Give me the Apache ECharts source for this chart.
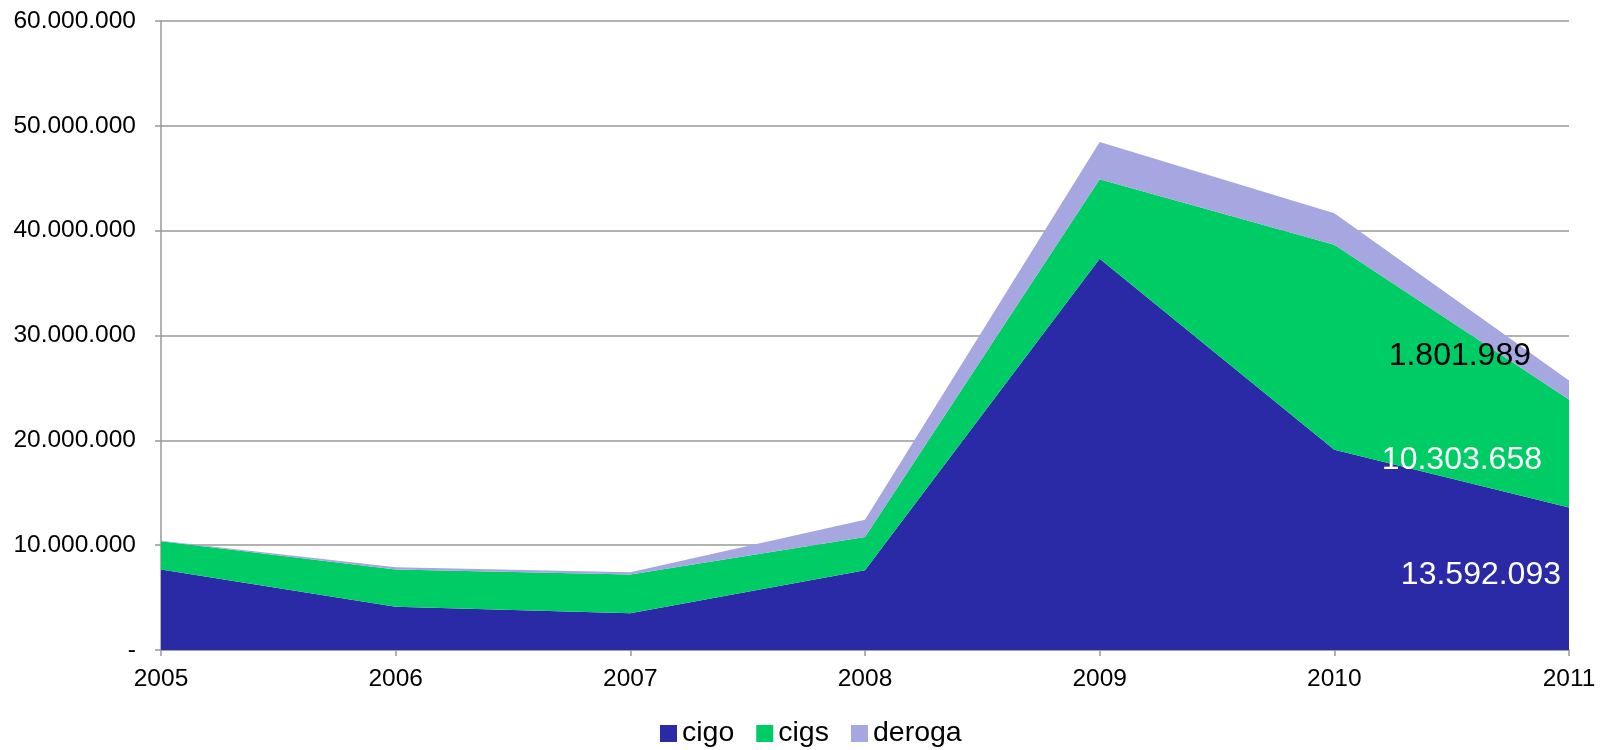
<!DOCTYPE html>
<html>
<head>
<meta charset="utf-8">
<script src="https://cdn.jsdelivr.net/npm/echarts@6/dist/echarts.min.js"></script>
<style>
html,body{margin:0;padding:0;background:#fff;overflow:hidden;}
#chart{width:1601px;height:750px;}
</style>
</head>
<body>
<div id="chart"></div>
<script>
const categories = ['2005', '2006', '2007', '2008', '2009', '2010', '2011'];
const seriesNames = ['cigo', 'cigs', 'deroga'];
const cigo = [7670000, 4120000, 3510000, 7600000, 37330000, 19100000, 13592093];
const cigs = [2710000, 3550000, 3680000, 3190000, 7570000, 19560000, 10303658];
const deroga = [50000, 220000, 220000, 1640000, 3560000, 3000000, 1801989];
const yTicks = [0, 10000000, 20000000, 30000000, 40000000, 50000000, 60000000];

const colors = ['#2A2AA6', '#00CC66', '#A6A6E0'];
const labelColors = ['#ffffff', '#ffffff', '#000000'];
const labelOffsets = [[-3, 68], [-22, 61], [-33, -24]];
const FONT = '"Liberation Sans", Arial, sans-serif';

function fmt(v) {
  if (v === 0) return '-';
  return String(Math.round(v)).replace(/\B(?=(\d{3})+(?!\d))/g, '.');
}

const values = [cigo, cigs, deroga];
const last = categories.length - 1;

const series = values.map((arr, si) => ({
  name: seriesNames[si],
  type: 'line',
  stack: 'total',
  symbol: 'circle',
  symbolSize: 0,
  showSymbol: true,
  lineStyle: { width: 0 },
  itemStyle: { color: colors[si] },
  areaStyle: { color: colors[si], opacity: 1 },
  emphasis: { disabled: true },
  data: arr.map((v, i) => i === last ? {
    value: v,
    label: {
      show: true,
      position: 'left',
      distance: 5,
      offset: labelOffsets[si],
      color: labelColors[si],
      fontSize: 32,
      fontFamily: FONT,
      formatter: (p) => fmt(p.value)
    }
  } : v)
}));

const chart = echarts.init(document.getElementById('chart'), null, { renderer: 'canvas' });
chart.setOption({
  animation: false,
  color: colors,
  grid: { left: 161, right: 32, top: 21, bottom: 100, containLabel: false },
  legend: {
    data: seriesNames,
    left: 660,
    bottom: 2,
    padding: 0,
    icon: 'rect',
    itemWidth: 17,
    itemHeight: 17,
    itemGap: 22,
    textStyle: { fontSize: 28.5, fontFamily: FONT, color: '#000' },
    selectedMode: false
  },
  xAxis: {
    type: 'category',
    data: categories,
    boundaryGap: false,
    axisLine: { lineStyle: { color: '#999', width: 1.5 } },
    axisTick: { show: true, alignWithLabel: true, length: 6, lineStyle: { color: '#999', width: 1.5 } },
    axisLabel: { fontSize: 24.5, fontFamily: FONT, color: '#000', margin: 17, interval: 0 }
  },
  yAxis: {
    type: 'value',
    min: yTicks[0],
    max: yTicks[yTicks.length - 1],
    interval: yTicks[1] - yTicks[0],
    axisLine: { show: true, lineStyle: { color: '#999', width: 1.5 } },
    axisTick: { show: true, length: 6, lineStyle: { color: '#999', width: 1.5 } },
    splitLine: { show: true, lineStyle: { color: '#999', width: 1.5 } },
    axisLabel: { fontSize: 24.5, fontFamily: FONT, color: '#000', margin: 25, formatter: fmt }
  },
  series: series
});
</script>
</body>
</html>
